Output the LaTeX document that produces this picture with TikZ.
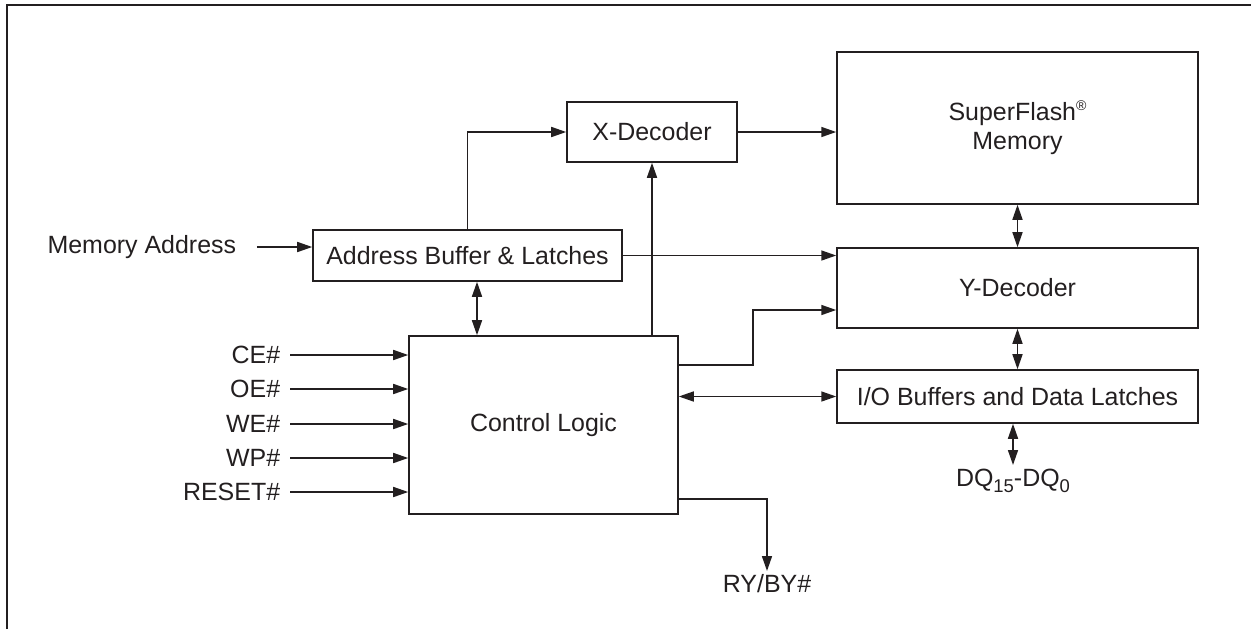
\documentclass[tikz,border=0pt]{standalone}
\usepackage{fontspec}
\setmainfont{Liberation Sans}
\usepackage{xcolor}
\usetikzlibrary{arrows.meta, positioning, calc}
\definecolor{ink}{HTML}{231F20}

\begin{document}
\begin{tikzpicture}[
    x=0.02cm, y=-0.02cm,
    box/.style={rectangle, draw=ink, line width=0.9pt, align=center, text=ink, inner sep=0pt, font=\fontsize{14.2}{17}\selectfont},
    lbl/.style={text=ink, inner sep=2pt, font=\fontsize{14.2}{17}\selectfont},
    arrow/.style={-{Triangle[length=3mm, width=2mm]}, line width=0.9pt, draw=ink},
    dblarrow/.style={{Triangle[length=3mm, width=2mm]}-{Triangle[length=3mm, width=2mm]}, line width=0.9pt, draw=ink},
]
\useasboundingbox (0,0) rectangle (1251,629);
\draw[line width=1.4pt, ink] (7,629) -- (7,5) -- (1251,5);

% blocks
\node[box, minimum width=3.4cm, minimum height=1.2cm] (xdec) at (652,132) {X-Decoder};
\node[box, minimum width=7.22cm, minimum height=3.04cm] (flash) at (1017.5,128) {SuperFlash\raisebox{0.7ex}{\fontsize{8}{9}\selectfont\textregistered}\\Memory};
\node[box, minimum width=6.18cm, minimum height=1.02cm] (addr) at (467.5,255.5) {Address Buffer \& Latches};
\node[box, minimum width=7.22cm, minimum height=1.6cm] (ydec) at (1017.5,288) {Y-Decoder};
\node[box, minimum width=7.22cm, minimum height=1.06cm] (io) at (1017.5,396.5) {I/O Buffers and Data Latches};
\node[box, minimum width=5.38cm, minimum height=3.56cm] (ctrl) at (543.5,425) {Control Logic};

% signal labels
\node[lbl, anchor=east] (memaddr) at (240,247) {Memory Address};
\node[lbl, anchor=east] (ce) at (284,355) {CE\#};
\node[lbl, anchor=east] (oe) at (284,389) {OE\#};
\node[lbl, anchor=east] (we) at (284,424) {WE\#};
\node[lbl, anchor=east] (wp) at (284,458) {WP\#};
\node[lbl, anchor=east] (reset) at (284,492) {RESET\#};
\node[lbl, anchor=north] (ryby) at (767,571) {RY/BY\#};
\node[lbl, anchor=north] (dq) at (1013,465) {DQ\raisebox{-0.45ex}{\fontsize{10.5}{12}\selectfont 15}-DQ\raisebox{-0.45ex}{\fontsize{10.5}{12}\selectfont 0}};

\coordinate (ac) at ($(addr.south)+(9.5,0)$);

% connections
\draw[arrow] ([xshift=0.34cm]memaddr.east) -- (memaddr.east -| addr.west);
\draw[arrow] (addr.north) |- (xdec.west);
\draw[arrow] (addr.east) -- (addr.east -| ydec.west);
\draw[dblarrow] (ac) -- (ac |- ctrl.north);
\draw[arrow] (xdec.south |- ctrl.north) -- (xdec.south);
\draw[arrow] (xdec.east) -- (xdec.east -| flash.west);
\draw[dblarrow] (flash.south) -- (ydec.north);
\draw[dblarrow] (ydec.south) -- (io.north);
\draw[dblarrow] (io.west -| ctrl.east) -- (io.west);
\draw[dblarrow] (io.south -| dq.north) -- (dq.north);
\draw[arrow] ($(ctrl.north east)+(0,30)$) -- ++(74,0) |- ($(ydec.west)+(0,22)$);
\draw[arrow] ($(ctrl.south east)+(0,-16)$) -| (ryby.north);
\draw[arrow] ([xshift=0.12cm]ce.east) -- (ce -| ctrl.west);
\draw[arrow] ([xshift=0.12cm]oe.east) -- (oe -| ctrl.west);
\draw[arrow] ([xshift=0.12cm]we.east) -- (we -| ctrl.west);
\draw[arrow] ([xshift=0.12cm]wp.east) -- (wp -| ctrl.west);
\draw[arrow] ([xshift=0.12cm]reset.east) -- (reset -| ctrl.west);
\end{tikzpicture}
\end{document}
